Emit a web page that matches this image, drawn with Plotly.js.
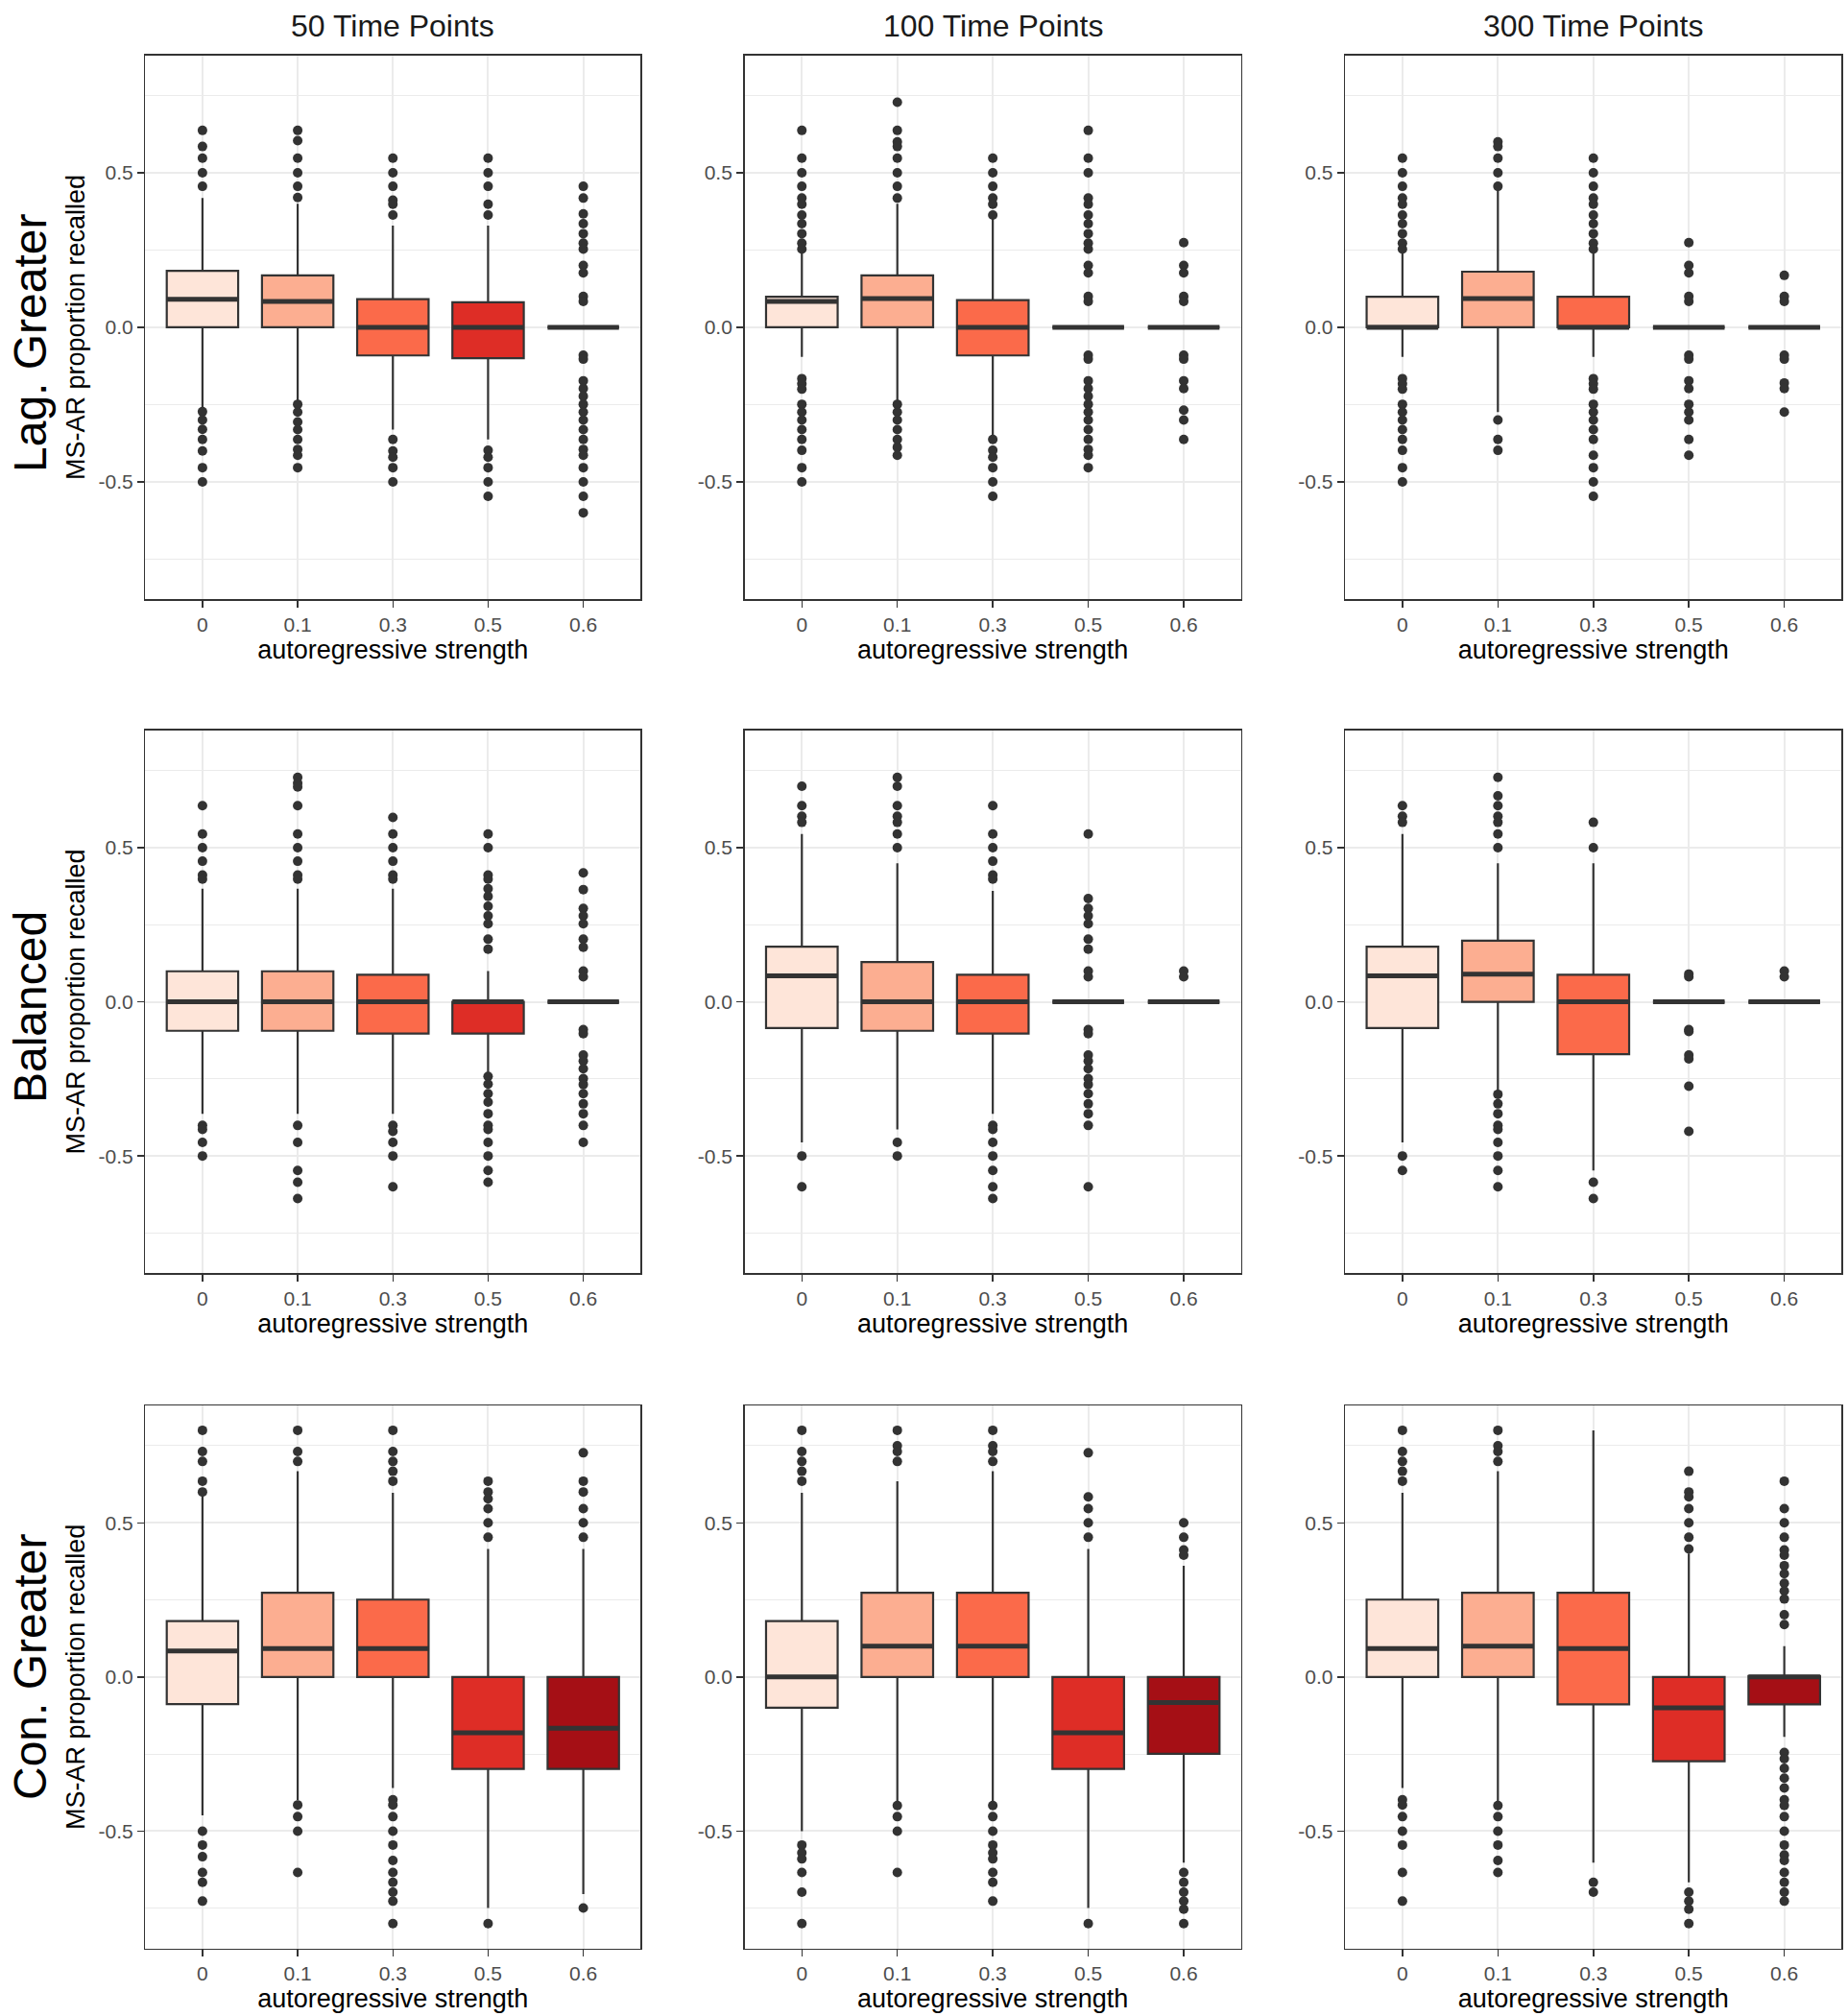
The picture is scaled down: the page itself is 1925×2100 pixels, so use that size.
<!DOCTYPE html>
<html>
<head>
<meta charset="utf-8">
<script src="https://cdn.plot.ly/plotly-3.0.1.min.js"></script>
<style>html,body{margin:0;padding:0;background:#fff;}#chart{width:1925px;height:2100px;}</style>
</head>
<body>
<div id="chart"></div>
<script>
// ---------------- DATA ----------------
const categories = ['0', '0.1', '0.3', '0.5', '0.6'];
const colTitles = ['50 Time Points', '100 Time Points', '300 Time Points'];
const rowTitles = ['Lag. Greater', 'Balanced', 'Con. Greater'];
const fillColors = ['#FEE5D9', '#FCAE91', '#FB6A4A', '#DE2D26', '#A50F15'];
const yTickVals = [-0.5, 0, 0.5];
const yTickText = ['-0.5', '0.0', '0.5'];

// Lag. Greater, 50 time points
const lag50_q1  = [0, 0, -0.091, -0.1, 0];
const lag50_med = [0.091, 0.084, 0, 0, 0];
const lag50_q3  = [0.183, 0.168, 0.091, 0.081, 0];
const lag50_lo  = [-0.26, -0.24, -0.331, -0.363, 0];
const lag50_hi  = [0.418, 0.40, 0.329, 0.329, 0];
const lag50_out = [
  [0.637, 0.585, 0.547, 0.5, 0.456, -0.273, -0.30, -0.33, -0.363, -0.40, -0.454, -0.5],
  [0.637, 0.604, 0.547, 0.5, 0.456, 0.42, -0.249, -0.274, -0.306, -0.331, -0.363, -0.395, -0.414, -0.454],
  [0.547, 0.5, 0.456, 0.411, 0.398, 0.363, -0.363, -0.40, -0.42, -0.454, -0.5],
  [0.547, 0.5, 0.456, 0.398, 0.363, -0.398, -0.42, -0.454, -0.5, -0.547],
  [0.456, 0.418, 0.367, 0.335, 0.303, 0.272, 0.253, 0.2, 0.176, 0.1, 0.084, -0.09, -0.103, -0.173, -0.198, -0.223, -0.249, -0.274, -0.3, -0.331, -0.363, -0.395, -0.414, -0.454, -0.5, -0.547, -0.6]
];

// Lag. Greater, 100 time points
const lag100_q1  = [0, 0, -0.091, 0, 0];
const lag100_med = [0.084, 0.093, 0, 0, 0];
const lag100_q3  = [0.099, 0.168, 0.088, 0, 0];
const lag100_lo  = [-0.096, -0.242, -0.357, 0, 0];
const lag100_hi  = [0.246, 0.40, 0.354, 0, 0];
const lag100_out = [
  [0.637, 0.547, 0.5, 0.456, 0.418, 0.398, 0.363, 0.335, 0.303, 0.272, 0.253, -0.166, -0.183, -0.2, -0.249, -0.274, -0.3, -0.331, -0.363, -0.398, -0.454, -0.5],
  [0.728, 0.637, 0.60, 0.585, 0.547, 0.5, 0.456, 0.418, -0.249, -0.274, -0.3, -0.331, -0.363, -0.388, -0.414],
  [0.547, 0.5, 0.456, 0.418, 0.398, 0.363, -0.363, -0.398, -0.42, -0.454, -0.5, -0.547],
  [0.637, 0.547, 0.5, 0.418, 0.398, 0.363, 0.335, 0.303, 0.272, 0.253, 0.2, 0.176, 0.1, 0.084, -0.09, -0.103, -0.173, -0.198, -0.223, -0.249, -0.274, -0.3, -0.331, -0.363, -0.395, -0.414, -0.454],
  [0.274, 0.2, 0.176, 0.1, 0.084, -0.09, -0.103, -0.173, -0.198, -0.268, -0.3, -0.363]
];

// Lag. Greater, 300 time points
const lag300_q1  = [0, 0, 0, 0, 0];
const lag300_med = [0, 0.093, 0, 0, 0];
const lag300_q3  = [0.099, 0.18, 0.099, 0, 0];
const lag300_lo  = [-0.096, -0.274, -0.096, 0, 0];
const lag300_hi  = [0.246, 0.449, 0.246, 0, 0];
const lag300_out = [
  [0.547, 0.5, 0.456, 0.418, 0.398, 0.363, 0.335, 0.303, 0.272, 0.253, -0.166, -0.183, -0.2, -0.249, -0.274, -0.3, -0.331, -0.363, -0.398, -0.454, -0.5],
  [0.6, 0.585, 0.547, 0.5, 0.456, -0.3, -0.363, -0.398],
  [0.547, 0.5, 0.456, 0.418, 0.398, 0.363, 0.335, 0.303, 0.272, 0.253, -0.166, -0.183, -0.2, -0.249, -0.274, -0.3, -0.331, -0.363, -0.414, -0.454, -0.5, -0.547],
  [0.274, 0.2, 0.176, 0.1, 0.084, -0.09, -0.103, -0.173, -0.198, -0.249, -0.274, -0.3, -0.363, -0.414],
  [0.168, 0.1, 0.084, -0.09, -0.103, -0.18, -0.198, -0.274]
];

// Balanced, 50 time points
const bal50_q1  = [-0.094, -0.094, -0.103, -0.103, 0];
const bal50_med = [0, 0, 0, 0, 0];
const bal50_q3  = [0.099, 0.099, 0.088, 0, 0];
const bal50_lo  = [-0.363, -0.363, -0.363, -0.236, 0];
const bal50_hi  = [0.367, 0.367, 0.367, 0.1, 0];
const bal50_out = [
  [0.636, 0.544, 0.5, 0.456, 0.411, 0.398, -0.401, -0.414, -0.456, -0.5],
  [0.728, 0.709, 0.697, 0.636, 0.544, 0.5, 0.456, 0.411, 0.398, -0.401, -0.456, -0.547, -0.585, -0.638],
  [0.598, 0.544, 0.5, 0.456, 0.411, 0.398, -0.401, -0.42, -0.456, -0.5, -0.6],
  [0.544, 0.5, 0.411, 0.398, 0.367, 0.342, 0.31, 0.279, 0.253, 0.203, 0.171, -0.242, -0.267, -0.298, -0.325, -0.363, -0.401, -0.414, -0.456, -0.5, -0.547, -0.585],
  [0.418, 0.364, 0.303, 0.279, 0.253, 0.203, 0.177, 0.1, 0.081, -0.09, -0.103, -0.173, -0.192, -0.217, -0.249, -0.268, -0.298, -0.331, -0.363, -0.401, -0.456]
];

// Balanced, 100 time points
const bal100_q1  = [-0.085, -0.094, -0.103, 0, 0];
const bal100_med = [0.084, 0, 0, 0, 0];
const bal100_q3  = [0.179, 0.129, 0.088, 0, 0];
const bal100_lo  = [-0.456, -0.414, -0.363, 0, 0];
const bal100_hi  = [0.544, 0.449, 0.36, 0, 0];
const bal100_out = [
  [0.699, 0.636, 0.602, 0.582, -0.5, -0.6],
  [0.728, 0.699, 0.636, 0.602, 0.582, 0.544, 0.5, -0.456, -0.5],
  [0.636, 0.544, 0.5, 0.456, 0.411, 0.398, -0.401, -0.414, -0.456, -0.5, -0.547, -0.6, -0.638],
  [0.544, 0.335, 0.303, 0.279, 0.253, 0.203, 0.171, 0.1, 0.081, -0.09, -0.103, -0.173, -0.192, -0.217, -0.249, -0.268, -0.298, -0.331, -0.363, -0.401, -0.6],
  [0.1, 0.081]
];

// Balanced, 300 time points
const bal300_q1  = [-0.085, 0, -0.17, 0, 0];
const bal300_med = [0.084, 0.09, 0, 0, 0];
const bal300_q3  = [0.179, 0.198, 0.088, 0, 0];
const bal300_lo  = [-0.456, -0.29, -0.547, 0, 0];
const bal300_hi  = [0.544, 0.449, 0.449, 0, 0];
const bal300_out = [
  [0.636, 0.602, 0.582, -0.5, -0.547],
  [0.728, 0.668, 0.636, 0.602, 0.582, 0.544, 0.5, -0.3, -0.331, -0.363, -0.401, -0.414, -0.456, -0.5, -0.547, -0.6],
  [0.582, 0.5, -0.585, -0.638],
  [0.09, 0.081, -0.09, -0.096, -0.173, -0.185, -0.274, -0.42],
  [0.1, 0.081]
];

// Con. Greater, 50 time points
const con50_q1  = [-0.088, 0, 0, -0.298, -0.298];
const con50_med = [0.084, 0.092, 0.092, -0.181, -0.166];
const con50_q3  = [0.181, 0.273, 0.251, 0, 0];
const con50_lo  = [-0.449, -0.40, -0.36, -0.749, -0.704];
const con50_hi  = [0.585, 0.667, 0.597, 0.415, 0.415];
const con50_out = [
  [0.80, 0.731, 0.699, 0.635, 0.6, -0.5, -0.545, -0.583, -0.634, -0.666, -0.727],
  [0.80, 0.731, 0.699, -0.415, -0.453, -0.5, -0.634],
  [0.80, 0.731, 0.699, 0.667, 0.635, -0.398, -0.415, -0.453, -0.5, -0.545, -0.595, -0.634, -0.666, -0.698, -0.727, -0.8],
  [0.635, 0.6, 0.578, 0.546, 0.5, 0.453, -0.8],
  [0.727, 0.635, 0.6, 0.546, 0.5, 0.453, -0.749]
];

// Con. Greater, 100 time points
const con100_q1  = [-0.1, 0, 0, -0.298, -0.249];
const con100_med = [0, 0.1, 0.1, -0.181, -0.083];
const con100_q3  = [0.181, 0.273, 0.273, 0, 0];
const con100_lo  = [-0.5, -0.411, -0.411, -0.749, -0.602];
const con100_hi  = [0.597, 0.635, 0.667, 0.415, 0.361];
const con100_out = [
  [0.80, 0.731, 0.699, 0.667, 0.635, -0.545, -0.57, -0.59, -0.634, -0.698, -0.8],
  [0.80, 0.75, 0.731, 0.699, -0.417, -0.453, -0.5, -0.634],
  [0.80, 0.75, 0.731, 0.699, -0.417, -0.453, -0.5, -0.545, -0.57, -0.59, -0.634, -0.666, -0.727],
  [0.727, 0.584, 0.546, 0.5, 0.453, -0.8],
  [0.5, 0.453, 0.412, 0.395, -0.634, -0.666, -0.698, -0.727, -0.753, -0.8]
];

// Con. Greater, 300 time points
const con300_q1  = [0, 0, -0.089, -0.273, -0.089];
const con300_med = [0.092, 0.1, 0.092, -0.1, 0];
const con300_q3  = [0.251, 0.273, 0.273, 0, 0.003];
const con300_lo  = [-0.36, -0.411, -0.602, -0.666, -0.194];
const con300_hi  = [0.597, 0.667, 0.80, 0.40, 0.1];
const con300_out = [
  [0.80, 0.731, 0.699, 0.667, 0.635, -0.398, -0.415, -0.453, -0.5, -0.545, -0.634, -0.727],
  [0.80, 0.75, 0.731, 0.699, -0.417, -0.453, -0.5, -0.545, -0.595, -0.634],
  [-0.666, -0.698],
  [0.667, 0.6, 0.584, 0.546, 0.5, 0.453, 0.415, -0.698, -0.727, -0.753, -0.8],
  [0.635, 0.546, 0.5, 0.453, 0.412, 0.395, 0.361, 0.335, 0.304, 0.279, 0.253, 0.202, 0.17, -0.245, -0.265, -0.296, -0.328, -0.36, -0.398, -0.417, -0.453, -0.5, -0.545, -0.577, -0.595, -0.634, -0.666, -0.698, -0.727]
];

// ---------------- BUILD ----------------
const panels = [
  [lag50_q1, lag50_med, lag50_q3, lag50_lo, lag50_hi, lag50_out],
  [lag100_q1, lag100_med, lag100_q3, lag100_lo, lag100_hi, lag100_out],
  [lag300_q1, lag300_med, lag300_q3, lag300_lo, lag300_hi, lag300_out],
  [bal50_q1, bal50_med, bal50_q3, bal50_lo, bal50_hi, bal50_out],
  [bal100_q1, bal100_med, bal100_q3, bal100_lo, bal100_hi, bal100_out],
  [bal300_q1, bal300_med, bal300_q3, bal300_lo, bal300_hi, bal300_out],
  [con50_q1, con50_med, con50_q3, con50_lo, con50_hi, con50_out],
  [con100_q1, con100_med, con100_q3, con100_lo, con100_hi, con100_out],
  [con300_q1, con300_med, con300_q3, con300_lo, con300_hi, con300_out]
];

const W = 1925, H = 2100;
const colPx = [[151.4, 667.1], [775.6, 1292.7], [1401.2, 1918.3]];
const rowPx = [[57.6, 624.3], [760.9, 1326.2], [1464.2, 2029.5]];
const rowLabelY = [357, 1049, 1737];

const FONT = 'Liberation Sans, Arial, Helvetica, sans-serif';
const DARK = '#333333';
const GRID = '#EBEBEB';

const traces = [];
const layout = {
  width: W, height: H,
  margin: {l: 0, r: 0, t: 0, b: 0},
  paper_bgcolor: '#ffffff',
  plot_bgcolor: '#ffffff',
  showlegend: false,
  font: {family: FONT, color: '#000000'},
  annotations: []
};

panels.forEach((p, idx) => {
  const [q1, med, q3, lo, hi, out] = p;
  const r = Math.floor(idx / 3), c = idx % 3;
  const s = idx === 0 ? '' : String(idx + 1);
  const xa = 'x' + s, ya = 'y' + s;

  categories.forEach((cat, i) => {
    traces.push({
      type: 'box', x: [cat],
      q1: [q1[i]], median: [med[i]], q3: [q3[i]],
      lowerfence: [lo[i]], upperfence: [hi[i]],
      fillcolor: fillColors[i],
      line: {color: DARK, width: 2.2},
      width: 0.75, whiskerwidth: 0, boxpoints: false,
      xaxis: xa, yaxis: ya, hoverinfo: 'skip', showlegend: false
    });
    traces.push({
      type: 'box', x: [cat],
      q1: [med[i]], median: [med[i]], q3: [med[i]],
      lowerfence: [med[i]], upperfence: [med[i]],
      fillcolor: 'rgba(0,0,0,0)',
      line: {color: DARK, width: 5},
      width: 0.75, whiskerwidth: 0, boxpoints: false,
      xaxis: xa, yaxis: ya, hoverinfo: 'skip', showlegend: false
    });
  });

  const ox = [], oy = [];
  out.forEach((vals, i) => vals.forEach(v => { ox.push(categories[i]); oy.push(v); }));
  traces.push({
    type: 'scatter', mode: 'markers', x: ox, y: oy,
    marker: {size: 10, color: DARK},
    xaxis: xa, yaxis: ya, hoverinfo: 'skip', showlegend: false, cliponaxis: false
  });

  layout['xaxis' + s] = {
    domain: [colPx[c][0] / W, colPx[c][1] / W],
    anchor: ya,
    type: 'category',
    categoryorder: 'array', categoryarray: categories,
    range: [-0.6, 4.6],
    showgrid: true, gridcolor: GRID, gridwidth: 2,
    zeroline: false,
    showline: true, mirror: true, linecolor: DARK, linewidth: 1.5,
    ticks: 'outside', ticklen: 7, tickwidth: 1.5, tickcolor: DARK,
    tickfont: {family: FONT, size: 21, color: '#4D4D4D'},
    title: {text: 'autoregressive strength', font: {family: FONT, size: 27, color: '#000000'}, standoff: 4},
    fixedrange: true
  };
  layout['yaxis' + s] = {
    domain: [1 - rowPx[r][1] / H, 1 - rowPx[r][0] / H],
    anchor: xa,
    range: [-0.88, 0.88],
    tickmode: 'array', tickvals: yTickVals, ticktext: yTickText,
    showgrid: true, gridcolor: GRID, gridwidth: 2,
    minor: {tickmode: 'array', tickvals: [-0.75, -0.25, 0.25, 0.75], showgrid: true, gridcolor: GRID, gridwidth: 1, ticks: ''},
    zeroline: false,
    showline: true, mirror: true, linecolor: DARK, linewidth: 1.5,
    ticks: 'outside', ticklen: 7, tickwidth: 1.5, tickcolor: DARK,
    tickfont: {family: FONT, size: 21, color: '#4D4D4D'},
    title: c === 0 ? {text: 'MS-AR proportion recalled', font: {family: FONT, size: 27, color: '#000000'}, standoff: 6} : {text: ''},
    fixedrange: true
  };
});

colTitles.forEach((t, c) => {
  layout.annotations.push({
    text: t, xref: 'paper', yref: 'paper',
    x: (colPx[c][0] + colPx[c][1]) / 2 / W, y: 1 - 27 / H,
    xanchor: 'center', yanchor: 'middle', showarrow: false,
    font: {family: FONT, size: 32, color: '#1A1A1A'}
  });
});
rowTitles.forEach((t, r) => {
  layout.annotations.push({
    text: t, xref: 'paper', yref: 'paper',
    x: 31 / W, y: 1 - rowLabelY[r] / H,
    xanchor: 'center', yanchor: 'middle', showarrow: false, textangle: -90,
    font: {family: FONT, size: 48, color: '#000000'}
  });
});

Plotly.newPlot('chart', traces, layout, {staticPlot: true, displayModeBar: false});
</script>
</body>
</html>
